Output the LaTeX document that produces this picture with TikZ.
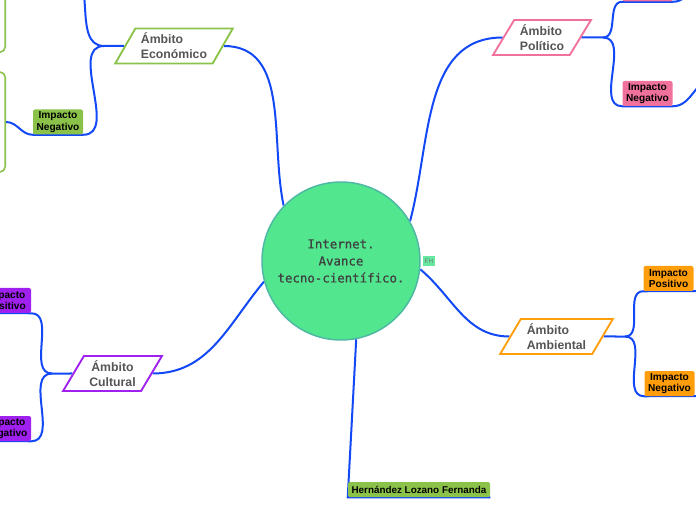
\documentclass[tikz,border=0pt]{standalone}
\usepackage{fontspec}
\setmainfont{Liberation Sans}
\newfontfamily\codefont[BoldFont={DejaVu Sans Mono},BoldFeatures={FakeBold=0.7}]{DejaVu Sans Mono}
\usepackage{xcolor}
\usetikzlibrary{shapes.geometric,backgrounds}

\definecolor{linkblue}{HTML}{1248F5}
\definecolor{labgray}{HTML}{555555}
\definecolor{ecogreen}{HTML}{8BC34A}
\definecolor{polpink}{HTML}{F0729C}
\definecolor{ambor}{HTML}{FF9E0A}
\definecolor{culpur}{HTML}{A020F0}
\definecolor{corefill}{HTML}{52E68F}
\definecolor{coreline}{HTML}{4DB8A4}
\definecolor{fhfill}{HTML}{66E8A0}

\begin{document}
\begin{tikzpicture}[x=0.75pt,y=0.75pt,
    centro/.style={circle,draw=coreline,line width=1.1pt,fill=corefill,minimum size=118.5pt,
      align=center,text=black!75,font=\codefont\bfseries\fontsize{9.3}{12.75}\selectfont},
    ambito/.style={trapezium,trapezium left angle=58,trapezium right angle=122,
      trapezium stretches=true,line width=1.4pt,fill=white,minimum height=26.25pt,
      inner sep=1pt,align=left,text=labgray,font=\fontsize{9.2}{11.25}\selectfont\bfseries},
    impacto/.style={rounded corners=1.5pt,inner sep=1pt,minimum width=37.5pt,
      minimum height=18.75pt,align=center,text=black,font=\fontsize{7.6}{8.6}\selectfont\bfseries},
    hoja/.style={draw=ecogreen,line width=1.2pt,rounded corners=4pt,fill=white,
      minimum width=60pt,minimum height=75pt},
    enlace/.style={draw=linkblue,line width=1.5pt}]
  \useasboundingbox (0,0) rectangle (696,-520);
  \clip (0,0) rectangle (696,-520);
  % centre
  \node[centro] (c) at (341,-261) {Internet.\\Avance \\tecno-científico.};
  \node[fill=fhfill,inner sep=0pt,minimum width=9pt,minimum height=7.5pt,
    text=black!55,font=\fontsize{4.8}{5}\selectfont] (fh) at (429,-261) {FH};
  % ambitos
  \node[ambito,draw=ecogreen,minimum width=88.5pt] (eco) at (174,-46) {Ámbito\\Económico};
  \node[ambito,draw=polpink,minimum width=73.5pt] (pol) at (542,-37.5) {Ámbito\\Político};
  \node[ambito,draw=ambor,minimum width=84.75pt] (amb) at (556.5,-336.5) {Ámbito\\Ambiental};
  \node[ambito,draw=culpur,minimum width=74.25pt,align=center] (cul) at (112.5,-373.5) {Ámbito\\Cultural};
  % impactos
  \node[impacto,fill=ecogreen] (econeg) at (58,-122) {Impacto\\Negativo};
  \node[impacto,fill=polpink] (polpos) at (647.5,11) {};
  \node[impacto,fill=polpink] (polneg) at (647.5,-93.5) {Impacto\\Negativo};
  \node[impacto,fill=ambor] (ambpos) at (668.5,-278.5) {Impacto\\Positivo};
  \node[impacto,fill=ambor] (ambneg) at (669.5,-383.5) {Impacto\\Negativo};
  \node[impacto,fill=culpur] (culpos) at (6,-300.5) {Impacto\\Positivo};
  \node[impacto,fill=culpur] (culneg) at (6,-428.5) {Impacto\\Negativo};
  \node[impacto,fill=ecogreen,minimum width=106.5pt,minimum height=11.25pt,
    font=\fontsize{7.4}{8}\selectfont\bfseries] (hlf) at (419,-489.5) {Hernández Lozano Fernanda};
  % hojas cortadas por el borde
  \node[hoja,anchor=south east] (ecoleafa) at (6,-53) {};
  \node[hoja,anchor=east] (ecoleafb) at (6,-122) {};
  % puntos de bifurcacion y extremos libres
  \coordinate (ecofork) at (104,-46);
  \coordinate (polfork) at (603,-37.5);
  \coordinate (ambfork) at (625,-336.5);
  \coordinate (culfork) at (52,-373.5);
  \coordinate (ecoposend) at (66,30);
  \coordinate (polposend) at (712,20);
  \coordinate (polnegend) at (715,-78);
  \coordinate (ambposend) at (710,-291);
  \coordinate (ambnegend) at (710,-396);
  \coordinate (culposend) at (-20,-313);
  \coordinate (culnegend) at (-20,-441);
  \begin{scope}[on background layer]
    \draw[enlace] (c.136) to[out=102,in=0] (eco.east);
    \draw[enlace] (c.30) to[out=75,in=180] (pol.west);
    \draw[enlace] (c.-6) to[out=-40,in=180] (amb.west);
    \draw[enlace] (c.195) to[out=230,in=0] (cul.east);
    \draw[enlace] (c.-79) -- (hlf.south west) -- (hlf.south east);
    \draw[enlace] (eco.west) -- (ecofork);
    \draw[enlace] (ecofork) to[out=180,in=0] (ecoposend);
    \draw[enlace] (ecofork) to[out=180,in=0] (econeg.south east) -- (econeg.south west)
      to[out=180,in=0] (ecoleafb.east);
    \draw[enlace] (pol.east) -- (polfork);
    \draw[enlace] (polfork) to[out=0,in=180] (polpos.south west) -- (polpos.south east)
      to[out=0,in=180] (polposend);
    \draw[enlace] (polfork) to[out=0,in=180] (polneg.south west) -- (polneg.south east)
      to[out=0,in=180] (polnegend);
    \draw[enlace] (amb.east) -- (ambfork);
    \draw[enlace] (ambfork) to[out=0,in=180] (ambpos.south west) -- (ambposend);
    \draw[enlace] (ambfork) to[out=0,in=180] (ambneg.south west) -- (ambnegend);
    \draw[enlace] (cul.west) -- (culfork);
    \draw[enlace] (culfork) to[out=180,in=0] (culpos.south east) -- (culposend);
    \draw[enlace] (culfork) to[out=180,in=0] (culneg.south east) -- (culnegend);
  \end{scope}
\end{tikzpicture}
\end{document}
